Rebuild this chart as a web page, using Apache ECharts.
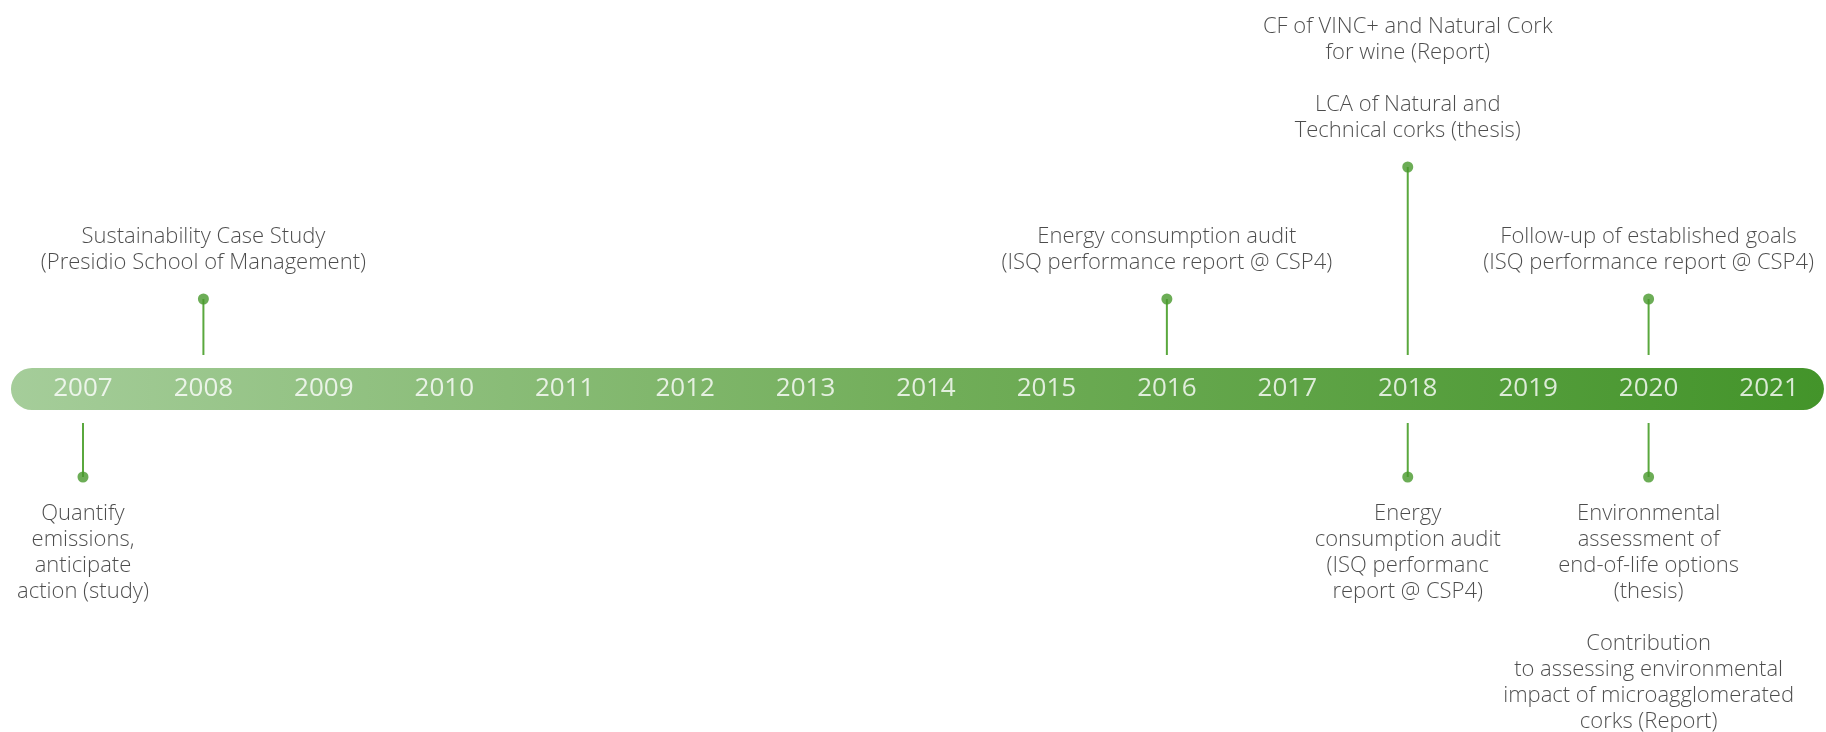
<!DOCTYPE html>
<html>
<head>
<meta charset="utf-8">
<script src="https://cdn.jsdelivr.net/npm/echarts@6/dist/echarts.min.js"></script>
<style>
html,body{margin:0;padding:0;background:#fff;}
#chart{width:1826px;height:732px;}
</style>
</head>
<body>
<div id="chart"></div>
<script>
// ---- data ----
const years = [2007, 2008, 2009, 2010, 2011, 2012, 2013, 2014, 2015, 2016, 2017, 2018, 2019, 2020, 2021];
const eventYears = [2008, 2016, 2018, 2020, 2007, 2018, 2020];
const eventSide = ['up', 'up', 'up', 'up', 'down', 'down', 'down'];
const eventReach = [90, 90, 222, 90, 88, 88, 88];
const eventTexts = [
  'Sustainability Case Study\n(Presidio School of Management)',
  'Energy consumption audit\n(ISQ performance report @ CSP4)',
  'CF of VINC+ and Natural Cork\nfor wine (Report)\n\nLCA of Natural and\nTechnical corks (thesis)',
  'Follow-up of established goals\n(ISQ performance report @ CSP4)',
  'Quantify\nemissions,\nanticipate\naction (study)',
  'Energy\nconsumption audit\n(ISQ performanc\nreport @ CSP4)',
  'Environmental\nassessment of\nend-of-life options\n(thesis)\n\nContribution\nto assessing environmental\nimpact of microagglomerated\ncorks (Report)'
];
const barSpan = [2006.402, 2021.456];

// ---- styling ----
const FONT = '"Open Sans", "Noto Sans", sans-serif';
const TEXT_COLOR = '#1f1f1f';
const STEM_COLOR = '#5aa83e';
const DOT_COLOR = '#47982c';
const BAR_HALF = 21;
const STEM_GAP = 34;

const chart = echarts.init(document.getElementById('chart'), null, {renderer: 'canvas'});

const stemData = eventYears.map((y, i) => {
  const s = eventSide[i] === 'up' ? 1 : -1;
  return [y, s * STEM_GAP, s * eventReach[i]];
});
const dotData = eventYears.map((y, i) => {
  const s = eventSide[i] === 'up' ? 1 : -1;
  return {
    value: [y, s * eventReach[i]],
    label: {position: eventSide[i] === 'up' ? 'top' : 'bottom', formatter: eventTexts[i]}
  };
});

const option = {
  animation: false,
  backgroundColor: '#ffffff',
  grid: {left: 0, right: 0, top: 0, bottom: 0},
  xAxis: {type: 'value', min: 2006.311, max: 2021.473, show: false},
  yAxis: {type: 'value', min: -343, max: 389, show: false},
  series: [
    {
      type: 'custom',
      data: [barSpan],
      renderItem: function (params, api) {
        const p0 = api.coord([api.value(0), BAR_HALF]);
        const p1 = api.coord([api.value(1), -BAR_HALF]);
        return {
          type: 'rect',
          shape: {x: p0[0], y: p0[1], width: p1[0] - p0[0], height: p1[1] - p0[1], r: (p1[1] - p0[1]) / 2},
          style: {
            fill: new echarts.graphic.LinearGradient(0, 0, 1, 0, [
              {offset: 0, color: '#a5cd9a'},
              {offset: 0.5, color: '#72ae5a'},
              {offset: 1, color: '#43942a'}
            ])
          }
        };
      },
      z: 1
    },
    {
      type: 'scatter',
      data: years.map(y => [y, 0]),
      symbolSize: 0,
      label: {
        show: true,
        position: 'inside',
        formatter: p => String(p.value[0]),
        color: '#ffffff',
        fontFamily: FONT,
        fontSize: 26,
        fontWeight: 400
      },
      z: 3
    },
    {
      type: 'custom',
      data: stemData,
      renderItem: function (params, api) {
        const a = api.coord([api.value(0), api.value(1)]);
        const b = api.coord([api.value(0), api.value(2)]);
        return {
          type: 'line',
          shape: {x1: a[0], y1: a[1], x2: b[0], y2: b[1]},
          style: {stroke: STEM_COLOR, lineWidth: 2}
        };
      },
      z: 2
    },
    {
      type: 'scatter',
      data: dotData,
      symbol: 'circle',
      symbolSize: 11,
      itemStyle: {color: DOT_COLOR},
      label: {
        show: true,
        distance: 18,
        color: TEXT_COLOR,
        fontFamily: FONT,
        fontSize: 22,
        fontWeight: 300,
        lineHeight: 26,
        align: 'center'
      },
      z: 4
    }
  ]
};
chart.setOption(option);
</script>
</body>
</html>
